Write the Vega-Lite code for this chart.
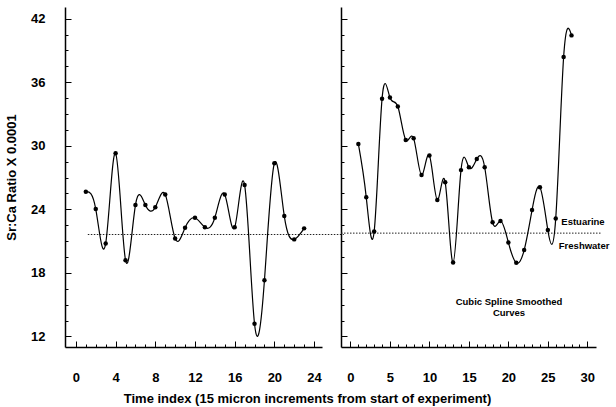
{
  "$schema": "https://vega.github.io/schema/vega-lite/v6.json",
  "padding": {"left": 5, "top": 7, "right": 0, "bottom": 0},
  "background": "white",
  "bounds": "flush",
  "spacing": 19,
  "title": {"text": "Time index (15 micron increments from start of experiment)", "orient": "bottom", "anchor": "middle", "font": "Liberation Sans", "fontSize": 13, "fontWeight": "bold", "color": "black", "offset": 6},
  "datasets": {
    "left": [
      {"t": 1, "ratio": 25.66}, {"t": 2, "ratio": 24.02}, {"t": 3, "ratio": 20.78}, {"t": 4, "ratio": 29.29},
      {"t": 5, "ratio": 19.2}, {"t": 6, "ratio": 24.4}, {"t": 7, "ratio": 24.4}, {"t": 8, "ratio": 24.2},
      {"t": 9, "ratio": 25.4}, {"t": 10, "ratio": 21.25}, {"t": 11, "ratio": 22.26}, {"t": 12, "ratio": 23.2},
      {"t": 13, "ratio": 22.3}, {"t": 14, "ratio": 23.2}, {"t": 15, "ratio": 25.4}, {"t": 16, "ratio": 22.3},
      {"t": 17, "ratio": 26.3}, {"t": 18, "ratio": 13.2}, {"t": 19, "ratio": 17.3}, {"t": 20, "ratio": 28.35},
      {"t": 21, "ratio": 23.36}, {"t": 22, "ratio": 21.16}, {"t": 23, "ratio": 22.2}
    ],
    "right": [
      {"t": 1, "ratio": 30.17}, {"t": 2, "ratio": 25.13}, {"t": 3, "ratio": 21.9}, {"t": 4, "ratio": 34.43},
      {"t": 5, "ratio": 34.55}, {"t": 6, "ratio": 33.7}, {"t": 7, "ratio": 30.55}, {"t": 8, "ratio": 30.7},
      {"t": 9, "ratio": 27.24}, {"t": 10, "ratio": 29.07}, {"t": 11, "ratio": 24.88}, {"t": 12, "ratio": 26.55},
      {"t": 13, "ratio": 18.98}, {"t": 14, "ratio": 27.7}, {"t": 15, "ratio": 27.97}, {"t": 16, "ratio": 28.75},
      {"t": 17, "ratio": 27.97}, {"t": 18, "ratio": 22.77}, {"t": 19, "ratio": 22.9}, {"t": 20, "ratio": 20.87},
      {"t": 21, "ratio": 18.95}, {"t": 22, "ratio": 20.15}, {"t": 23, "ratio": 23.93}, {"t": 24, "ratio": 26.08},
      {"t": 25, "ratio": 22.04}, {"t": 26, "ratio": 23.14}, {"t": 27, "ratio": 38.38}, {"t": 28, "ratio": 40.42}
    ],
    "leftRule": [{"t": 1.2, "t2": 27, "ratio": 21.62}],
    "rightRule": [{"t": -1.2, "t2": 31.8, "ratio": 21.75}],
    "notes": [
      {"t": 29.45, "ratio": 22.77, "label": "Estuarine"},
      {"t": 29.6, "ratio": 20.54, "label": "Freshwater"},
      {"t": 20.08, "ratio": 15.28, "label": "Cubic Spline Smoothed"},
      {"t": 20.08, "ratio": 14.18, "label": "Curves"}
    ]
  },
  "hconcat": [
    {
      "width": 257,
      "height": 340,
      "encoding": {
        "x": {"field": "t", "type": "quantitative", "scale": {"domain": [-1.1, 24.8], "nice": false, "zero": false},
          "axis": {"title": null, "values": [0,1,2,3,4,5,6,7,8,9,10,11,12,13,14,15,16,17,18,19,20,21,22,23,24],
            "labelExpr": "datum.value % 4 === 0 ? datum.label : ''", "labelOverlap": false, "labelFlush": false,
            "tickSize": {"condition": {"test": "datum.value % 4 === 0", "value": -6}, "value": -3}, "labelPadding": 30}},
        "y": {"field": "ratio", "type": "quantitative", "scale": {"domain": [11, 43.1], "nice": false, "zero": false},
          "axis": {"title": "Sr:Ca Ratio X 0.0001", "titlePadding": 12,
            "values": [12,13.5,15,16.5,18,19.5,21,22.5,24,25.5,27,28.5,30,31.5,33,34.5,36,37.5,39,40.5,42],
            "labelExpr": "datum.value % 6 === 0 ? datum.label : ''", "labelOverlap": false, "labelFlush": false,
            "tickSize": {"condition": {"test": "datum.value % 6 === 0", "value": -6}, "value": -3}, "labelPadding": 26}}
      },
      "layer": [
        {
          "data": {"name": "leftRule"},
          "mark": {"type": "rule", "color": "#222", "strokeWidth": 1, "strokeDash": [1.5, 1.5]},
          "encoding": {"x2": {"field": "t2"}}
        },
        {
          "data": {"name": "left"},
          "mark": {"type": "line", "interpolate": "natural", "color": "black", "strokeWidth": 1.2, "point": {"filled": true, "size": 20, "color": "black", "opacity": 1}},
          "encoding": {}
        }
      ]
    },
    {
      "width": 255,
      "height": 340,
      "encoding": {
        "x": {"field": "t", "type": "quantitative", "scale": {"domain": [-1.2, 31.1], "nice": false, "zero": false},
          "axis": {"title": null, "values": [0,1,2,3,4,5,6,7,8,9,10,11,12,13,14,15,16,17,18,19,20,21,22,23,24,25,26,27,28,29,30],
            "labelExpr": "datum.value % 5 === 0 ? datum.label : ''", "labelOverlap": false, "labelFlush": false,
            "tickSize": {"condition": {"test": "datum.value % 5 === 0", "value": -6}, "value": -3}, "labelPadding": 30}},
        "y": {"field": "ratio", "type": "quantitative", "scale": {"domain": [11, 43.1], "nice": false, "zero": false},
          "axis": {"title": null, "labels": false,
            "values": [12,13.5,15,16.5,18,19.5,21,22.5,24,25.5,27,28.5,30,31.5,33,34.5,36,37.5,39,40.5,42],
            "tickSize": {"condition": {"test": "datum.value % 6 === 0", "value": -6}, "value": -3}}}
      },
      "layer": [
        {
          "data": {"name": "rightRule"},
          "mark": {"type": "rule", "color": "#222", "strokeWidth": 1, "strokeDash": [1.5, 1.5]},
          "encoding": {"x2": {"field": "t2"}}
        },
        {
          "data": {"name": "right"},
          "mark": {"type": "line", "interpolate": "natural", "color": "black", "strokeWidth": 1.2, "point": {"filled": true, "size": 20, "color": "black", "opacity": 1}},
          "encoding": {}
        },
        {
          "data": {"name": "notes"},
          "mark": {"type": "text", "font": "Liberation Sans", "fontWeight": "bold", "fontSize": 9.5, "color": "black", "align": "center", "baseline": "middle"},
          "encoding": {"text": {"field": "label"}}
        }
      ]
    }
  ],
  "config": {
    "view": {"stroke": null},
    "axis": {"grid": false, "domainColor": "black", "domainWidth": 1.5, "tickColor": "black", "tickWidth": 1,
      "labelFont": "Liberation Sans", "labelFontWeight": "bold", "labelFontSize": 13, "labelColor": "black",
      "titleFont": "Liberation Sans", "titleFontWeight": "bold", "titleFontSize": 13, "titleColor": "black"}
  }
}
